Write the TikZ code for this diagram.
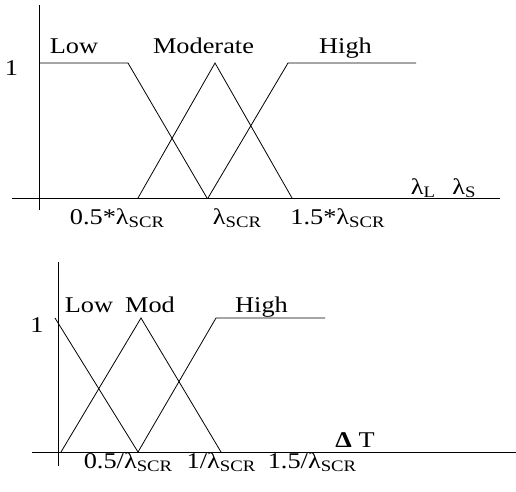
\documentclass[tikz,border=0pt]{standalone}
\usepackage{fontspec}
\setmainfont[FakeStretch=1.17]{Liberation Serif}
\newcommand{\lsb}[1]{\raisebox{-0.35ex}{\fontsize{16}{16}\selectfont #1}}
\begin{document}
\begin{tikzpicture}[x=1pt,y=-1pt,
  lbl/.style={anchor=base,inner sep=0pt,font=\fontsize{22.5}{25}\selectfont},
  ln/.style={line width=0.8pt,black}]
\useasboundingbox (0,0) rectangle (516,491);
% ---- top chart ----
\coordinate (tv1) at (39,5);   \coordinate (tv2) at (39,210);
\coordinate (th1) at (12,198); \coordinate (th2) at (500,198);
\draw[ln] (tv1) -- (tv2);
\draw[ln] (th1) -- (th2);
\coordinate (tl1) at (39,63);  \coordinate (tl2) at (128,63); \coordinate (tl3) at (207,198);
\draw[ln] (tl1) -- (tl2) -- (tl3);
\coordinate (tm1) at (138,198); \coordinate (tm2) at (215,63); \coordinate (tm3) at (292,198);
\draw[ln] (tm1) -- (tm2) -- (tm3);
\coordinate (th3) at (208,198); \coordinate (th4) at (288,63); \coordinate (th5) at (416,63);
\draw[ln] (th3) -- (th4) -- (th5);
\node[lbl] (tone) at (11.5,75) {1};
\node[lbl] (tlow) at (74,53) {Low};
\node[lbl] (tmod) at (203.5,53) {Moderate};
\node[lbl] (thigh) at (345.5,53) {High};
\node[lbl] (tlamL) at (423,194) {λ\lsb{L}};
\node[lbl] (tlamS) at (464,194) {λ\lsb{S}};
\node[lbl] (tx1) at (117,224) {0.5*λ\lsb{SCR}};
\node[lbl] (tx2) at (237,224) {λ\lsb{SCR}};
\node[lbl] (tx3) at (337.5,224) {1.5*λ\lsb{SCR}};
% ---- bottom chart ----
\coordinate (bv1) at (58,262);  \coordinate (bv2) at (58,466);
\coordinate (bh1) at (32,452);  \coordinate (bh2) at (516,452);
\draw[ln] (bv1) -- (bv2);
\draw[ln] (bh1) -- (bh2);
\coordinate (bl1) at (55,318); \coordinate (bl2) at (138,452);
\draw[ln] (bl1) -- (bl2);
\coordinate (bm1) at (61,452); \coordinate (bm2) at (141,318); \coordinate (bm3) at (221,452);
\draw[ln] (bm1) -- (bm2) -- (bm3);
\coordinate (bhh1) at (138,452); \coordinate (bhh2) at (216,318); \coordinate (bhh3) at (325,318);
\draw[ln] (bhh1) -- (bhh2) -- (bhh3);
\node[lbl] (bone) at (37,332) {1};
\node[lbl] (blow) at (89,312) {Low};
\node[lbl] (bmod) at (150,312) {Mod};
\node[lbl] (bhigh) at (261.5,312) {High};
\node[lbl] (bdt) at (355,447) {\textbf{Δ} T};
\node[lbl] (bx1) at (128,468) {0.5/λ\lsb{SCR}};
\node[lbl] (bx2) at (221,468) {1/λ\lsb{SCR}};
\node[lbl] (bx3) at (312,468) {1.5/λ\lsb{SCR}};
\end{tikzpicture}
\end{document}
